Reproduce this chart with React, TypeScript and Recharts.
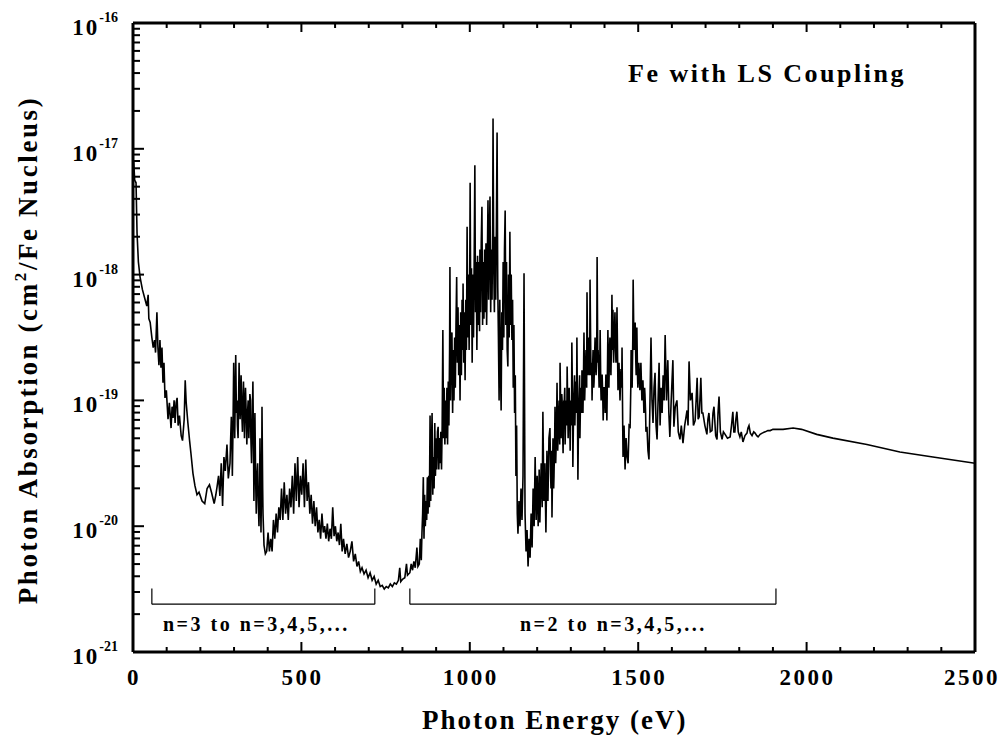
import React from 'react';
import { LineChart, Line, XAxis, YAxis, ReferenceLine } from 'recharts';

// log10 of photon absorption (cm^2 / Fe nucleus) vs photon energy (eV)
// n=3 -> n=3,4,5,... band (low-energy side)
const n3Band: [number, number][] = [
  [2, -17.1], [5, -17.25], [9, -17.27], [12, -17.67], [16, -17.9], [21, -18.02], [28, -18.12], [36, -18.2],
  [41, -18.25], [45, -18.16], [47, -18.35], [51, -18.38], [56, -18.5], [60, -18.58], [64, -18.52], [67, -18.62],
  [71, -18.3], [74, -18.58], [77, -18.72], [80, -18.52], [83, -18.74], [86, -18.58], [89, -18.86], [92, -18.7],
  [95, -18.98], [99, -18.92], [104, -19.15], [108, -19.02], [113, -19.22], [116, -19.05], [119, -19.14], [122, -19.0],
  [125, -19.18], [128, -19.02], [131, -18.98], [134, -19.2], [138, -19.12], [143, -19.28], [147, -19.32], [152, -19.15],
  [155, -18.84], [158, -19.02], [163, -19.18], [168, -19.32], [172, -19.42], [178, -19.58], [184, -19.68], [190, -19.75],
  [196, -19.73], [205, -19.8], [213, -19.82], [220, -19.7], [227, -19.67], [233, -19.73], [241, -19.82], [246, -19.75],
  [250, -19.68], [254, -19.6], [258, -19.76], [262, -19.5], [266, -19.84], [270, -19.45], [274, -19.56], [279, -19.35],
  [283, -19.62], [288, -19.5], [290, -19.3], [292, -19.13], [294, -19.4], [295, -19.6], [297, -19.2], [299, -18.7],
  [301, -19.1], [302, -19.3], [304, -18.9], [305, -18.64], [307, -19.1], [309, -19.0], [310, -19.2], [312, -19.3],
  [314, -18.9], [315, -18.7], [317, -19.0], [318, -19.15], [320, -18.95], [321, -18.8], [323, -19.1], [325, -19.25],
  [327, -18.95], [328, -18.85], [330, -19.1], [331, -19.3], [333, -19.0], [334, -18.9], [336, -19.1], [338, -19.35],
  [340, -19.1], [342, -19.0], [344, -19.3], [345, -19.2], [347, -18.95], [349, -19.0], [350, -19.3], [352, -19.5],
  [354, -19.2], [356, -18.85], [358, -19.4], [359, -19.8], [361, -19.4], [362, -19.1], [364, -19.6], [366, -19.9],
  [368, -19.6], [370, -19.5], [372, -19.8], [374, -20.0], [376, -19.7], [377, -19.3], [379, -19.8], [380, -20.05],
  [382, -19.6], [383, -19.05], [385, -19.7], [386, -19.9], [389, -20.15],
  [393, -20.22], [397, -20.2], [401, -20.05], [405, -20.2], [409, -20.1], [413, -20.2], [417, -19.95], [421, -20.1],
  [425, -19.9], [429, -20.05], [433, -19.85], [437, -19.95], [441, -19.7], [445, -19.95], [449, -19.65], [453, -19.9],
  [457, -19.75], [461, -19.95], [465, -19.7], [469, -19.85], [473, -19.6], [477, -19.9], [481, -19.5], [485, -19.8],
  [489, -19.45], [493, -19.85], [497, -19.6], [501, -19.75], [505, -19.5], [509, -19.85], [513, -19.47], [517, -19.8],
  [521, -19.65], [525, -19.9], [529, -19.75], [533, -19.98], [537, -19.8], [541, -20.0], [545, -19.85], [549, -20.05],
  [553, -19.95], [557, -20.1], [561, -19.9], [565, -20.05], [569, -20.0], [573, -20.1], [577, -19.98], [581, -20.12],
  [585, -20.02], [589, -20.1], [593, -19.85], [597, -20.08], [601, -20.0], [605, -20.12], [609, -20.05], [613, -20.15],
  [617, -19.98], [621, -20.2], [625, -20.1], [630, -20.22], [635, -20.14], [640, -20.25], [645, -20.2], [650, -20.12],
  [655, -20.28], [660, -20.22], [665, -20.32], [670, -20.28], [675, -20.36], [680, -20.33], [686, -20.38], [692, -20.35],
  [698, -20.41], [704, -20.37], [710, -20.43], [716, -20.4], [722, -20.46], [728, -20.43], [734, -20.48], [740, -20.47],
  [746, -20.5], [752, -20.48], [758, -20.49], [764, -20.46], [770, -20.48], [776, -20.45], [782, -20.46], [788, -20.43],
  [792, -20.33], [795, -20.44], [801, -20.42], [807, -20.41], [812, -20.3], [815, -20.39],
];

// n=2 -> n=3,4,5,... band
const n2Band: [number, number][] = [
  [822, -20.37], [826, -20.3], [830, -20.35], [834, -20.28], [838, -20.33], [843, -20.17], [846, -20.32], [850, -20.3],
  [853, -20.1], [856, -20.27], [858, -20.05], [860, -19.9], [862, -19.61], [864, -20.1], [866, -19.75], [868, -20.0],
  [870, -19.8], [872, -19.95], [874, -19.61], [876, -19.9], [878, -19.6], [880, -19.85], [882, -19.12], [884, -19.8],
  [886, -19.4], [888, -19.1], [890, -19.75], [892, -19.45], [894, -19.7], [896, -19.18], [898, -19.6], [900, -19.3],
  [902, -19.55], [904, -19.25], [906, -19.21], [908, -19.55], [910, -19.3], [912, -19.5], [914, -19.25], [916, -19.55],
  [918, -19.2], [920, -18.44], [922, -19.3], [924, -18.9], [926, -19.35], [928, -19.0], [930, -19.3], [932, -18.9],
  [934, -19.35], [936, -18.85], [938, -19.2], [940, -18.6], [941, -17.94], [943, -19.0], [945, -18.5], [947, -18.46],
  [949, -19.1], [951, -18.6], [953, -19.0], [955, -18.5], [957, -18.9], [959, -18.4], [961, -18.02], [963, -18.7],
  [965, -18.26], [967, -18.8], [969, -18.4], [971, -19.0], [973, -18.3], [975, -18.8], [977, -18.2], [979, -18.6],
  [980, -18.07], [982, -18.7], [984, -18.3], [986, -18.84], [988, -18.2], [990, -18.6], [992, -17.62], [994, -18.5],
  [996, -18.0], [998, -18.6], [1000, -17.9], [1001, -17.27], [1003, -18.4], [1005, -17.95], [1007, -18.7], [1009, -18.0],
  [1011, -18.5], [1013, -17.9], [1015, -17.13], [1017, -18.3], [1019, -17.9], [1021, -18.6], [1023, -17.85], [1025, -18.4],
  [1027, -17.9], [1029, -18.45], [1030, -17.8], [1032, -18.3], [1034, -17.75], [1036, -17.46], [1038, -18.4], [1040, -17.9],
  [1042, -18.35], [1044, -17.8], [1046, -18.3], [1048, -17.75], [1050, -18.4], [1052, -17.9], [1054, -17.41], [1056, -18.2],
  [1058, -17.7], [1060, -17.38], [1062, -18.3], [1064, -17.8], [1066, -18.2], [1068, -17.6], [1069, -16.76], [1071, -17.9],
  [1073, -18.3], [1075, -17.7], [1077, -18.2], [1079, -17.6], [1081, -16.87], [1083, -18.1], [1085, -18.5], [1087, -19.0],
  [1089, -18.2], [1091, -18.7], [1093, -19.08], [1095, -18.3], [1097, -18.6], [1099, -17.9], [1101, -18.5], [1103, -17.8],
  [1105, -17.49], [1107, -18.4], [1109, -17.9], [1111, -18.6], [1113, -18.73], [1115, -18.0], [1117, -18.5], [1119, -17.66],
  [1121, -18.4], [1123, -18.0], [1125, -18.52], [1127, -18.2], [1129, -18.9], [1131, -18.4], [1133, -19.1], [1135, -18.8],
  [1137, -19.6], [1139, -19.2], [1141, -19.9], [1143, -20.06], [1146, -19.8], [1149, -20.0], [1152, -19.7], [1155, -19.95],
  [1158, -19.6], [1161, -17.99], [1164, -19.9], [1167, -20.2], [1170, -20.03], [1173, -20.32], [1176, -20.1], [1179, -20.25],
  [1182, -19.9], [1185, -20.17], [1188, -19.7], [1191, -20.0], [1194, -19.45], [1197, -19.95], [1200, -19.6], [1203, -20.0],
  [1206, -19.55], [1208, -19.97], [1212, -19.5], [1215, -19.85], [1217, -19.09], [1220, -19.8], [1223, -19.5], [1226, -20.05],
  [1229, -19.4], [1232, -19.8], [1235, -19.3], [1238, -19.22], [1240, -19.6], [1241, -19.7], [1243, -19.4], [1244, -19.93],
  [1246, -19.5], [1247, -19.3], [1249, -19.7], [1250, -19.6], [1252, -19.3], [1253, -19.05], [1255, -19.5], [1256, -19.4],
  [1258, -19.1], [1259, -18.86], [1261, -19.4], [1262, -19.3], [1264, -19.1], [1265, -19.0], [1267, -19.35], [1268, -18.7],
  [1270, -19.1], [1271, -19.3], [1273, -18.95], [1274, -19.0], [1276, -19.3], [1277, -19.42], [1279, -19.0], [1280, -19.05],
  [1282, -18.9], [1283, -19.35], [1285, -19.1], [1286, -19.0], [1288, -19.2], [1289, -18.73], [1291, -19.1], [1292, -19.3],
  [1294, -18.95], [1295, -18.9], [1297, -19.2], [1298, -19.4], [1299, -19.1], [1300, -19.0], [1302, -19.2], [1303, -18.54],
  [1305, -19.0], [1306, -19.53], [1308, -19.1], [1309, -19.0], [1311, -18.8], [1312, -19.2], [1314, -18.9], [1315, -18.85],
  [1317, -19.1], [1318, -18.5], [1320, -19.2], [1321, -19.63], [1323, -19.1], [1324, -19.0], [1326, -18.8], [1327, -19.3],
  [1329, -18.95], [1330, -18.9], [1332, -19.1], [1333, -18.76], [1335, -19.0], [1336, -19.1], [1338, -18.7], [1339, -18.46],
  [1341, -19.0], [1342, -18.9], [1344, -18.7], [1345, -18.6], [1347, -18.9], [1348, -18.14], [1350, -18.7], [1351, -18.8],
  [1353, -18.6], [1354, -18.5], [1356, -18.8], [1357, -18.04], [1359, -18.6], [1360, -18.8], [1362, -18.7], [1363, -19.0],
  [1365, -18.7], [1366, -18.6], [1368, -18.9], [1369, -18.85], [1371, -18.6], [1372, -18.5], [1374, -18.75], [1375, -18.8],
  [1377, -18.6], [1378, -17.86], [1380, -18.7], [1381, -18.6], [1383, -18.8], [1384, -18.9], [1386, -18.7], [1387, -18.44],
  [1389, -18.9], [1390, -19.0], [1392, -18.8], [1393, -18.8], [1395, -19.0], [1396, -19.16], [1398, -18.9], [1399, -18.9],
  [1401, -19.0], [1402, -19.1], [1404, -18.8], [1405, -18.8], [1406, -19.0], [1407, -19.16], [1409, -18.7], [1410, -18.44],
  [1412, -18.8], [1413, -18.9], [1415, -18.6], [1416, -18.5], [1418, -18.7], [1419, -18.8], [1421, -18.5], [1422, -18.16],
  [1424, -18.6], [1425, -18.28], [1427, -18.7], [1428, -18.6], [1430, -18.4], [1431, -18.3], [1433, -18.6], [1434, -18.7],
  [1436, -18.5], [1437, -18.26], [1439, -18.7], [1440, -18.92], [1442, -18.8], [1443, -18.7], [1445, -18.9], [1446, -19.0],
  [1448, -18.8], [1449, -18.75], [1451, -18.9], [1452, -18.58], [1454, -19.2], [1455, -19.45], [1458, -19.2], [1461, -19.55],
  [1464, -19.3], [1467, -19.45], [1470, -19.5], [1473, -19.2], [1476, -19.21], [1478, -18.9], [1479, -18.6], [1481, -18.8],
  [1482, -18.9], [1484, -18.5], [1485, -18.04], [1487, -18.5], [1488, -18.6], [1490, -18.5], [1491, -18.38], [1493, -18.7],
  [1494, -18.8], [1495, -18.6], [1496, -18.42], [1498, -18.8], [1499, -18.9], [1501, -18.75], [1502, -18.7], [1504, -18.85],
  [1505, -18.92], [1507, -18.8], [1508, -18.7], [1510, -18.9], [1511, -19.0], [1513, -18.85], [1514, -18.84], [1516, -19.0],
  [1517, -19.1], [1519, -18.9], [1520, -18.95], [1522, -19.1], [1523, -19.25], [1526, -19.21], [1529, -19.4], [1532, -19.47],
  [1535, -19.0], [1538, -18.5], [1541, -19.0], [1544, -19.18], [1547, -18.9], [1550, -18.78], [1553, -19.2], [1556, -19.31],
  [1559, -19.0], [1562, -18.7], [1565, -19.2], [1568, -18.9], [1571, -19.1], [1574, -18.8], [1577, -19.0], [1580, -18.48],
  [1584, -19.0], [1588, -18.68], [1591, -19.1], [1594, -19.29], [1598, -19.0], [1603, -18.68], [1606, -19.21], [1610, -19.05],
  [1615, -19.0], [1619, -19.25], [1624, -19.31], [1628, -19.2], [1633, -19.34], [1638, -19.2], [1645, -19.08], [1648, -19.2],
  [1651, -18.69], [1655, -19.0], [1660, -18.94], [1664, -19.2], [1669, -19.16], [1672, -19.0], [1675, -18.82], [1678, -19.15],
  [1681, -19.13], [1684, -18.95], [1686, -18.82], [1689, -19.1], [1692, -19.1], [1698, -19.2], [1704, -19.27], [1707, -19.15],
  [1710, -19.1], [1714, -19.25], [1719, -19.24], [1722, -19.1], [1725, -19.05], [1730, -19.28], [1734, -19.31], [1737, -19.1],
  [1740, -18.97], [1744, -19.25], [1749, -19.31], [1753, -19.25], [1758, -19.27], [1765, -19.3], [1773, -19.29], [1777, -19.2],
  [1781, -19.09], [1784, -19.25], [1787, -19.25], [1790, -19.15], [1793, -19.09], [1797, -19.25], [1802, -19.29], [1806, -19.25],
  [1811, -19.33], [1817, -19.28], [1823, -19.26], [1826, -19.22], [1829, -19.2], [1833, -19.26], [1838, -19.28], [1843, -19.25],
  [1847, -19.26], [1852, -19.28], [1856, -19.29], [1862, -19.27], [1868, -19.26], [1877, -19.25], [1885, -19.24], [1892, -19.24],
  [1900, -19.23],
];

// smooth continuum above the L-shell lines
const tailBand: [number, number][] = [
  [1930, -19.23], [1960, -19.22], [1985, -19.23], [2030, -19.27], [2078, -19.3], [2179, -19.35], [2277, -19.41],
  [2375, -19.45], [2500, -19.5],
];

const xTicks = [0, 100, 200, 300, 400, 500, 600, 700, 800, 900, 1000, 1100, 1200, 1300, 1400, 1500, 1600, 1700, 1800, 1900, 2000, 2100, 2200, 2300, 2400, 2500];
const yDecades = [1e-21, 1e-20, 1e-19, 1e-18, 1e-17, 1e-16];
const yMinorSteps = [2, 3, 4, 5, 6, 7, 8, 9];
const yTicks = yDecades.flatMap((d, i) => (i < yDecades.length - 1 ? [d, ...yMinorSteps.map((m) => m * d)] : [d]));

// brackets under the two transition groups: [start eV, end eV]
const bracketN3 = [56, 718];
const bracketN2 = [822, 1909];
const bracketLow = 2.4e-21;
const bracketHigh = 3.2e-21;

const data = [...n3Band, ...n2Band, ...tailBand].map(([e, lg]) => ({ energy: e, sigma: Math.pow(10, lg) }));

const FONT = '"Liberation Serif", "Times New Roman", serif';

const isDecade = (v: number) => Math.abs(Math.log10(v) - Math.round(Math.log10(v))) < 1e-6;

const BottomTick = (props: any) => {
  const { x, y, payload } = props;
  const major = payload.value % 500 === 0;
  const last = payload.value === 2500;
  return (
    <g>
      <line x1={x} x2={x} y1={y} y2={y - (major ? 10 : 5)} stroke="#000" strokeWidth={2} />
      {major && (
        <text x={last ? x + 25 : x + 1} y={y + 33} textAnchor={last ? 'end' : 'middle'} fontFamily={FONT}
          fontWeight="bold" fontSize={23} letterSpacing={2.5} fill="#000">
          {payload.value}
        </text>
      )}
    </g>
  );
};

const TopTick = (props: any) => {
  const { x, y, payload } = props;
  const major = payload.value % 500 === 0;
  return <line x1={x} x2={x} y1={y} y2={y + (major ? 9 : 5)} stroke="#000" strokeWidth={2} />;
};

const LeftTick = (props: any) => {
  const { x, y, payload } = props;
  const major = isDecade(payload.value);
  return (
    <g>
      <line x1={x} x2={x + (major ? 11 : 7)} y1={y} y2={y} stroke="#000" strokeWidth={2} />
      {major && (
        <text x={x - 15} y={y + 12} textAnchor="end" fontFamily={FONT} fontWeight="bold" fill="#000">
          <tspan fontSize={23} letterSpacing={2}>10</tspan>
          <tspan fontSize={14} dy={-13}>{String(Math.round(Math.log10(payload.value)))}</tspan>
        </text>
      )}
    </g>
  );
};

const RightTick = (props: any) => {
  const { x, y, payload } = props;
  const major = isDecade(payload.value);
  return <line x1={x} x2={x - (major ? 11 : 7)} y1={y} y2={y} stroke="#000" strokeWidth={2} />;
};

const App: React.FC = () => {
  const axisLine = { stroke: '#000', strokeWidth: 3 };
  return (
    <div style={{ position: 'absolute', left: 0, top: 0, width: 1001, height: 738, background: '#fff' }}>
      <LineChart width={1001} height={738} data={data} margin={{ top: 18, right: 16, left: 63, bottom: 46 }}>
        <XAxis
          xAxisId="bottom"
          type="number"
          dataKey="energy"
          domain={[0, 2500]}
          ticks={xTicks}
          interval={0}
          height={40}
          tickSize={0}
          tickMargin={0}
          tickLine={false}
          axisLine={axisLine}
          tick={<BottomTick />}
        />
        <XAxis
          xAxisId="top"
          orientation="top"
          type="number"
          dataKey="energy"
          domain={[0, 2500]}
          ticks={xTicks}
          interval={0}
          height={5}
          tickSize={0}
          tickMargin={0}
          tickLine={false}
          axisLine={axisLine}
          tick={<TopTick />}
        />
        <YAxis
          yAxisId="left"
          scale="log"
          domain={[1e-21, 1e-16]}
          ticks={yTicks}
          interval={0}
          width={70}
          tickSize={0}
          tickMargin={0}
          tickLine={false}
          axisLine={axisLine}
          tick={<LeftTick />}
        />
        <YAxis
          yAxisId="right"
          orientation="right"
          scale="log"
          domain={[1e-21, 1e-16]}
          ticks={yTicks}
          interval={0}
          width={10}
          tickSize={0}
          tickMargin={0}
          tickLine={false}
          axisLine={axisLine}
          tick={<RightTick />}
        />
        <Line
          xAxisId="bottom"
          yAxisId="left"
          type="linear"
          dataKey="sigma"
          stroke="#000"
          strokeWidth={1.6}
          strokeLinejoin="miter"
          dot={false}
          isAnimationActive={false}
        />
        {[bracketN3, bracketN2].map(([a, b]) => (
          <React.Fragment key={a}>
            <ReferenceLine xAxisId="bottom" yAxisId="left" stroke="#000" strokeWidth={1.2}
              segment={[{ x: a, y: bracketLow }, { x: b, y: bracketLow }]} />
            <ReferenceLine xAxisId="bottom" yAxisId="left" stroke="#000" strokeWidth={1.2}
              segment={[{ x: a, y: bracketLow }, { x: a, y: bracketHigh }]} />
            <ReferenceLine xAxisId="bottom" yAxisId="left" stroke="#000" strokeWidth={1.2}
              segment={[{ x: b, y: bracketLow }, { x: b, y: bracketHigh }]} />
          </React.Fragment>
        ))}
      </LineChart>
      <svg width={1001} height={738} style={{ position: 'absolute', left: 0, top: 0, pointerEvents: 'none' }}>
        <g fontFamily={FONT} fontWeight="bold" fill="#000">
          <text x={628} y={82} fontSize={26} letterSpacing={2.5}>Fe with LS Coupling</text>
          <text x={163} y={631} fontSize={20} letterSpacing={2.5}>n=3 to n=3,4,5,...</text>
          <text x={520} y={631} fontSize={20} letterSpacing={2.5}>n=2 to n=3,4,5,...</text>
          <text x={422} y={729} fontSize={27} letterSpacing={2}>Photon Energy (eV)</text>
          <text x={37} y={350} fontSize={27} letterSpacing={2.6} textAnchor="middle" transform="rotate(-90 37 350)">
            Photon Absorption (cm<tspan fontSize={17} dy={-11}>2</tspan><tspan dy={11}>/Fe Nucleus)</tspan>
          </text>
        </g>
      </svg>
    </div>
  );
};

export default App;
